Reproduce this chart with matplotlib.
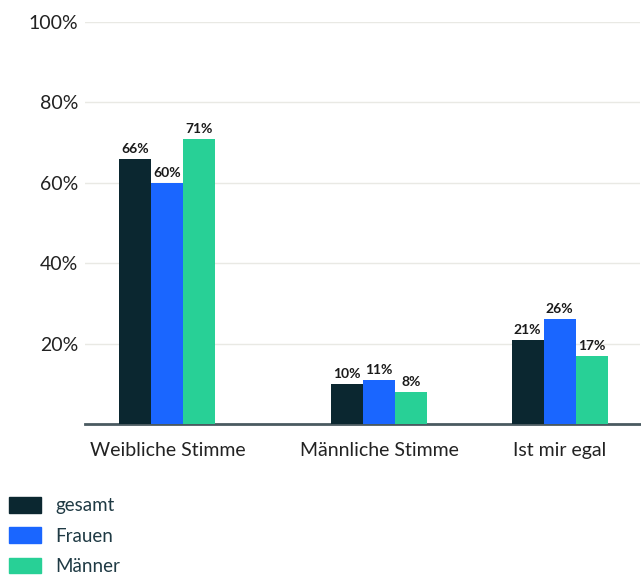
import numpy as np
import matplotlib.pyplot as plt
from matplotlib.patches import Patch

# data
categories = ['Weibliche Stimme', 'Männliche Stimme', 'Ist mir egal']
series = ['gesamt', 'Frauen', 'Männer']
gesamt = [66, 10, 21]
frauen = [60, 11, 26]
maenner = [71, 8, 17]
yticks = [20, 40, 60, 80, 100]

colors = ['#0b2730', '#1a66ff', '#28d096']
plt.rcParams['font.family'] = ['Lato', 'DejaVu Sans']

fig = plt.figure(figsize=(6.41, 5.76), dpi=100)
ax = fig.add_axes([85 / 641, 1 - 424 / 576, 555 / 641, 402 / 576])

# group positions (middle group sits a little right of centre in the original)
x = np.array([0, 1.08, 2])
w = 0.163
for i, (vals, c) in enumerate(zip([gesamt, frauen, maenner], colors)):
    bars = ax.bar(x + (i - 1) * w, vals, width=w, color=c, zorder=3)
    for b, v in zip(bars, vals):
        ax.text(b.get_x() + b.get_width() / 2, v + 1.0, f'{v}%',
                ha='center', va='bottom', fontsize=10, fontweight='bold',
                color='#1a1a1a', zorder=4)

ax.set_ylim(0, 100)
ax.set_xlim(-0.42, 2.41)
ax.set_yticks(yticks)
ax.set_yticklabels([f'{t}%' for t in yticks])
ax.yaxis.grid(True, color='#e9e9e4', linewidth=1)
ax.set_axisbelow(True)
ax.set_xticks(x)
ax.set_xticklabels(categories)
ax.tick_params(axis='both', length=0, labelsize=14, colors='#222222')
ax.tick_params(axis='y', pad=5)
ax.tick_params(axis='x', pad=13)
for s in ['top', 'right', 'left']:
    ax.spines[s].set_visible(False)
ax.spines['bottom'].set_color('#4a5a60')
ax.spines['bottom'].set_linewidth(2)

handles = [Patch(color=c, label=s) for c, s in zip(colors, series)]
leg = fig.legend(handles=handles, loc='upper left', bbox_to_anchor=(9 / 641, 1 - 497 / 576),
                 frameon=False, fontsize=13.5, handlelength=1.7, handleheight=0.9,
                 labelspacing=0.7, handletextpad=0.75, borderaxespad=0, borderpad=0)
for t in leg.get_texts():
    t.set_color('#1f3a44')

fig.savefig('out.png', dpi=100)
